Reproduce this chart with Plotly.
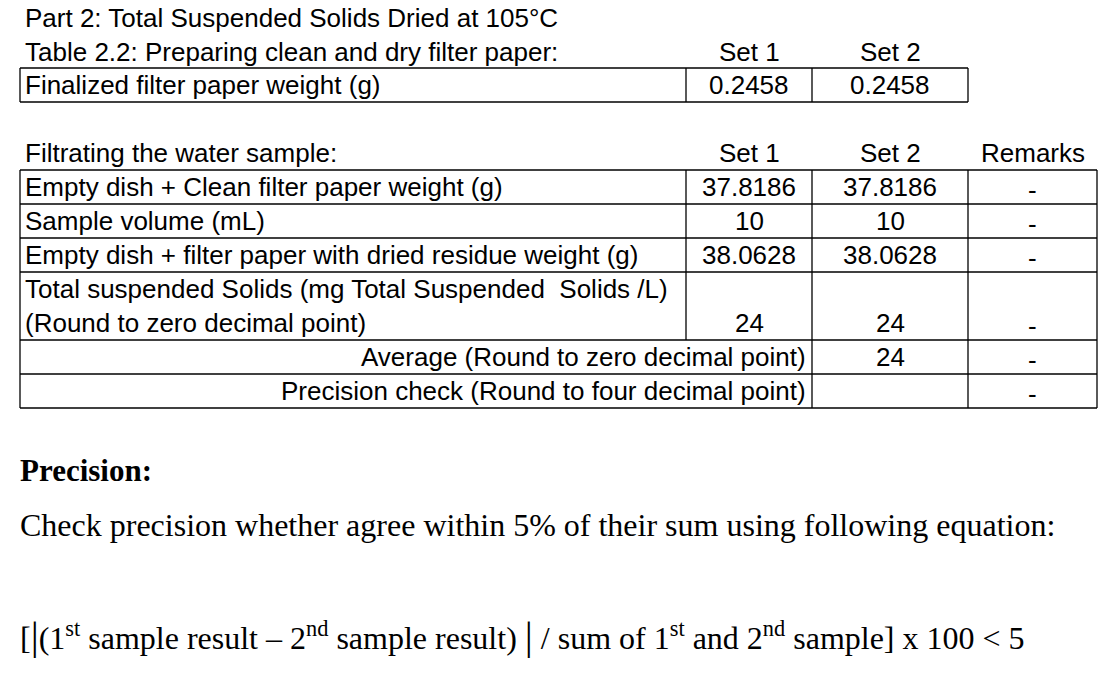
import plotly.graph_objects as go

# table data
prep_labels = ["Finalized filter paper weight (g)"]
prep_set1 = ["0.2458"]
prep_set2 = ["0.2458"]

filt_labels = ["Empty dish + Clean filter paper weight (g)",
               "Sample volume (mL)",
               "Empty dish + filter paper with dried residue weight (g)"]
filt_set1 = ["37.8186", "10", "38.0628"]
filt_set2 = ["37.8186", "10", "38.0628"]
filt_remarks = ["-", "-", "-"]
tss_label = ["Total suspended Solids (mg Total Suspended  Solids /L)",
             "(Round to zero decimal point)"]
tss_values = ["24", "24", "-"]
avg_label = "Average (Round to zero decimal point)"
avg_values = ["24", "-"]
prec_label = "Precision check (Round to four decimal point)"
prec_values = ["", "-"]

SANS = "Liberation Sans, Arial"
SERIF = "Liberation Serif, Times New Roman"
FS = 26

fig = go.Figure()
ann = []
shapes = []

def text(x, y, s, anchor="left", font=SANS, size=FS, bold=False):
    if bold:
        s = "<b>" + s + "</b>"
    ann.append(dict(x=x, y=y, text=s, showarrow=False, xanchor=anchor,
                    yanchor="middle", font=dict(family=font, size=size, color="black")))

def line(x0, y0, x1, y1):
    shapes.append(dict(type="line", x0=x0, y0=y0, x1=x1, y1=y1,
                       line=dict(color="black", width=1.3)))

cols = [20, 686, 812, 968, 1097]
mid = [(cols[i] + cols[i + 1]) / 2 for i in range(4)]

# table 2.2
text(23, 18, "Part 2: Total Suspended Solids Dried at 105°C")
text(23, 52, "Table 2.2: Preparing clean and dry filter paper:")
text(mid[1], 52, "Set 1", "center")
text(mid[2], 52, "Set 2", "center")
line(20, 68, 968, 68); line(20, 102, 968, 102)
for c in cols[:4]:
    line(c, 68, c, 102)
text(23, 85, prep_labels[0])
text(mid[1], 85, prep_set1[0], "center")
text(mid[2], 85, prep_set2[0], "center")

# filtration table
text(23, 153, "Filtrating the water sample:")
text(mid[1], 153, "Set 1", "center")
text(mid[2], 153, "Set 2", "center")
text(mid[3], 153, "Remarks", "center")
rows = [170, 204, 238, 272, 340, 374, 408]
for r in rows:
    line(20, r, 1097, r)
line(20, 170, 20, 408)
line(686, 170, 686, 340)
for c in cols[2:]:
    line(c, 170, c, 408)
for i, lab in enumerate(filt_labels):
    y = (rows[i] + rows[i + 1]) / 2
    text(23, y, lab)
    text(mid[1], y, filt_set1[i], "center")
    text(mid[2], y, filt_set2[i], "center")
    text(mid[3], y + 3, filt_remarks[i], "center")
text(23, 289, tss_label[0])
text(23, 323, tss_label[1])
for j, v in enumerate(tss_values):
    text(mid[j + 1], 323 + (3 if v == "-" else 0), v, "center")
text(808, 357, avg_label, "right")
text(mid[2], 357, avg_values[0], "center")
text(mid[3], 360, avg_values[1], "center")
text(808, 391, prec_label, "right")
text(mid[3], 394, prec_values[1], "center")

# precision notes
text(18, 470, "Precision:", font=SERIF, size=31, bold=True)
text(18, 525, "Check precision whether agree within 5% of their sum using following equation:",
     font=SERIF, size=32)
text(18, 635, "[<span style='font-size:40px'>|</span>(1<sup>st</sup> sample result – 2<sup>nd</sup> sample result) "
     "<span style='font-size:40px'>|</span> / sum of 1<sup>st</sup> and 2<sup>nd</sup> sample] x 100 &lt; 5",
     font=SERIF, size=32)

# the page body adds an 8px offset, so shift the axis ranges to compensate
fig.update_layout(width=1120, height=689, margin=dict(l=0, r=0, t=0, b=0),
                  paper_bgcolor="white", plot_bgcolor="white",
                  annotations=ann, shapes=shapes, showlegend=False)
fig.update_xaxes(range=[8, 1128], visible=False, fixedrange=True)
fig.update_yaxes(range=[697, 8], visible=False, fixedrange=True)
fig.write_html("out.html")
